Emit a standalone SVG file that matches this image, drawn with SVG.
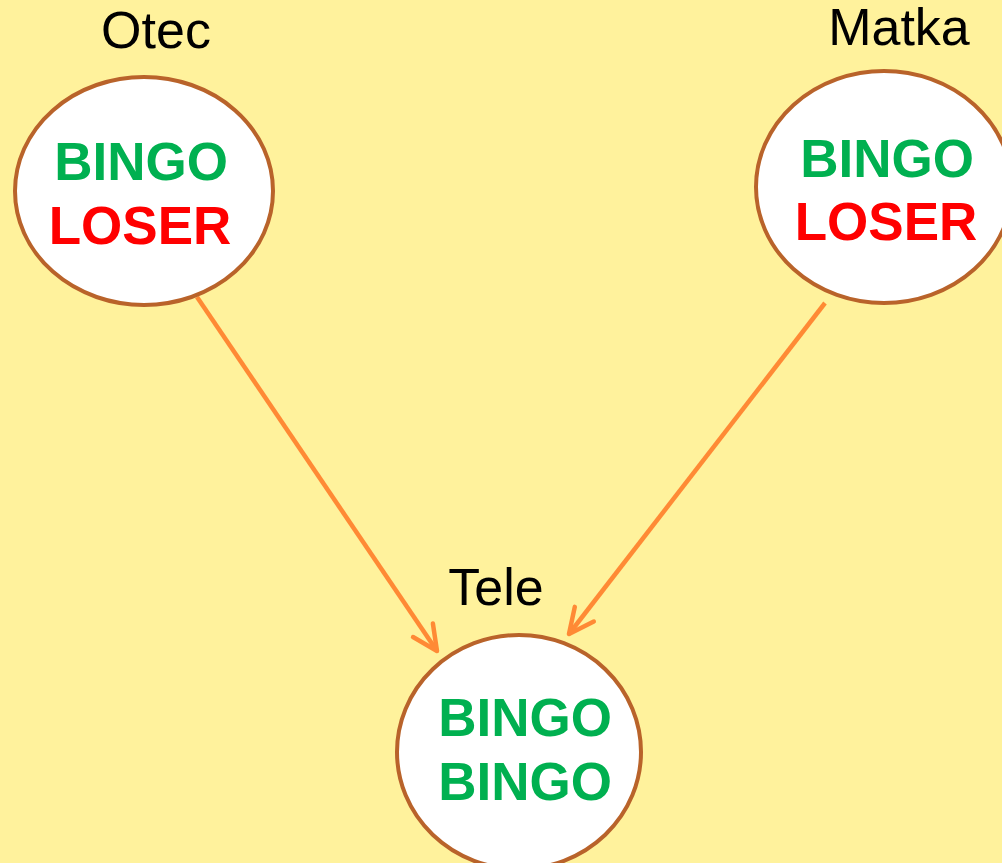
<svg xmlns="http://www.w3.org/2000/svg" width="1002" height="863" viewBox="0 0 1002 863">
  <style>
    .node { fill: #FFFFFF; stroke: #B9632A; stroke-width: 4; }
    .name { font-family: "Liberation Sans", Arial, sans-serif; font-size: 52px; fill: #000000; text-anchor: middle; }
    .val { font-family: "Liberation Sans", Arial, sans-serif; font-size: 53px; font-weight: bold; text-anchor: middle; }
    .bingo { fill: #00B050; }
    .loser { fill: #FF0000; }
    .edge { stroke: #FF8A35; stroke-width: 4.5; fill: none; }
  </style>
  <defs>
    <marker id="arrow" markerUnits="userSpaceOnUse" markerWidth="40" markerHeight="40" viewBox="-30 -20 40 40" refX="0" refY="0" orient="auto">
      <path d="M -25 -12 L 0 0 L -25 12" fill="none" stroke="#FF8A35" stroke-width="4.5" stroke-linecap="round" stroke-linejoin="round"/>
    </marker>
  </defs>
  <rect x="0" y="0" width="1002" height="863" fill="#FFF29C"/>
  <g id="connectors">
    <line class="edge" x1="197" y1="297" x2="437" y2="651" marker-end="url(#arrow)"/>
    <line class="edge" x1="825" y1="303" x2="569" y2="634" marker-end="url(#arrow)"/>
  </g>
  <g id="otec">
    <text class="name" x="156" y="48">Otec</text>
    <ellipse class="node" cx="144" cy="191" rx="129" ry="114"/>
    <text class="val bingo" x="141" y="180">BINGO</text>
    <text class="val loser" x="140" y="244">LOSER</text>
  </g>
  <g id="matka">
    <text class="name" x="899" y="45">Matka</text>
    <ellipse class="node" cx="884" cy="187" rx="128" ry="116"/>
    <text class="val bingo" x="887" y="177">BINGO</text>
    <text class="val loser" x="886" y="240">LOSER</text>
  </g>
  <g id="tele">
    <text class="name" x="496" y="605">Tele</text>
    <ellipse class="node" cx="519" cy="752" rx="122" ry="117"/>
    <text class="val bingo" x="525" y="736">BINGO</text>
    <text class="val bingo" x="525" y="800">BINGO</text>
  </g>
</svg>
